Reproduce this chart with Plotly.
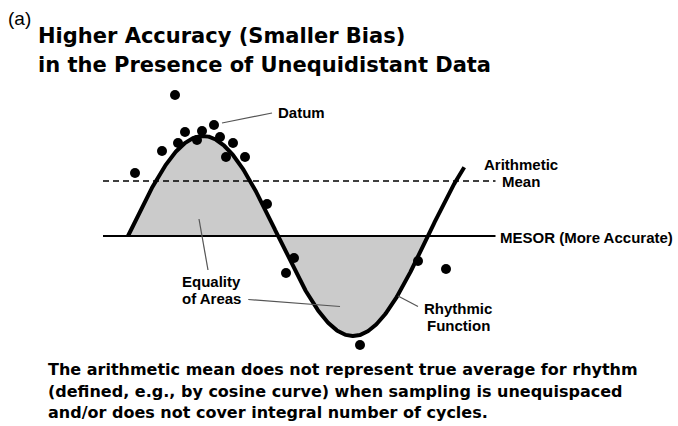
import numpy as np
import plotly.graph_objects as go

W, H = 678, 426

# Rhythm parameters (time in hours, arbitrary value units)
PERIOD = 24.0
MESOR = 50.0
AMPLITUDE = 20.0
ARITH_MEAN = 61.0
T_END = 26.9

# Observed data (time, value)
obs_t = [3.76, 6.88, 4.56, 5.92, 4.00, 5.52, 7.36, 8.40, 2.72, 7.84,
         9.36, 0.56, 11.12, 13.28, 12.64, 23.20, 25.44, 18.56]
obs_v = [78.2, 72.2, 70.8, 71.0, 68.6, 69.2, 69.8, 68.6, 67.0, 65.8,
         65.8, 62.6, 56.4, 45.6, 42.6, 45.0, 43.4, 28.2]

# Horizontal reference lines span
LINE_T0, LINE_T1 = -2.0, 29.4

X_RANGE = [-10.24, 44.0]
Y_RANGE = [12.0, 97.2]


def rhythm(t):
    return MESOR + AMPLITUDE * np.sin(2 * np.pi * t / PERIOD)


def px(x, y):
    return x / W, 1 - y / H


fig = go.Figure()

# shaded areas between the rhythmic function and the MESOR (one full cycle)
t_fill = np.linspace(0, PERIOD, 400)
fig.add_trace(go.Scatter(x=t_fill, y=np.full_like(t_fill, MESOR), mode="lines",
                         line=dict(width=0), hoverinfo="skip", showlegend=False))
fig.add_trace(go.Scatter(x=t_fill, y=rhythm(t_fill), mode="lines", fill="tonexty",
                         fillcolor="#cbcbcb", line=dict(width=0),
                         hoverinfo="skip", showlegend=False))

# arithmetic mean (dashed) and MESOR (solid)
fig.add_trace(go.Scatter(x=[LINE_T0, LINE_T1], y=[ARITH_MEAN, ARITH_MEAN], mode="lines",
                         line=dict(color="black", width=1.6, dash="6px,4px"),
                         showlegend=False))
fig.add_trace(go.Scatter(x=[LINE_T0, LINE_T1], y=[MESOR, MESOR], mode="lines",
                         line=dict(color="black", width=2), showlegend=False))

# rhythmic function
t_curve = np.linspace(0, T_END, 600)
fig.add_trace(go.Scatter(x=t_curve, y=rhythm(t_curve), mode="lines",
                         line=dict(color="black", width=4), showlegend=False))

# data points
fig.add_trace(go.Scatter(x=obs_t, y=obs_v, mode="markers",
                         marker=dict(color="black", size=10), showlegend=False))

# leader lines (data coordinates)
leaders = [
    ((7.52, 72.6), (11.52, 74.6)),   # Datum
    ((5.68, 53.4), (6.40, 43.2)),    # Equality of Areas, upper area
    ((9.62, 37.3), (16.96, 35.9)),   # Equality of Areas, lower area
    ((21.6, 38.0), (23.2, 35.9)),    # Rhythmic Function
]
for (x0, y0), (x1, y1) in leaders:
    fig.add_shape(type="line", x0=x0, y0=y0, x1=x1, y1=y1, xref="x", yref="y",
                  line=dict(color="#555555", width=1.2))

LABEL_FONT = dict(family="Liberation Sans, Arial, sans-serif", size=15, color="black",
                  weight="bold")
TITLE_FONT = dict(family="DejaVu Sans, sans-serif", size=21, color="black", weight="bold")
NOTE_FONT = dict(family="DejaVu Sans, sans-serif", size=16, color="black", weight="bold")

texts = [
    ("(a)", 7, 19, "left", dict(family="Liberation Sans, Arial, sans-serif", size=19,
                                  color="black")),
    ("Higher Accuracy (Smaller Bias)", 37, 36, "left", TITLE_FONT),
    ("in the Presence of Unequidistant Data", 37, 65, "left", TITLE_FONT),
    ("Datum", 277, 113, "left", LABEL_FONT),
    ("Arithmetic", 521, 164, "center", LABEL_FONT),
    ("Mean", 521, 182, "center", LABEL_FONT),
    ("MESOR (More Accurate)", 499, 237, "left", LABEL_FONT),
    ("Equality", 211, 281, "center", LABEL_FONT),
    ("of Areas", 211, 298, "center", LABEL_FONT),
    ("Rhythmic", 458, 308, "center", LABEL_FONT),
    ("Function", 458, 325, "center", LABEL_FONT),
    ("The arithmetic mean does not represent true average for rhythm", 47, 369, "left", NOTE_FONT),
    ("(defined, e.g., by cosine curve) when sampling is unequispaced", 47, 391, "left", NOTE_FONT),
    ("and/or does not cover integral number of cycles.", 47, 412, "left", NOTE_FONT),
]
for txt, x, y, anchor, font in texts:
    xp, yp = px(x, y)
    fig.add_annotation(text=txt, x=xp, y=yp, xref="paper", yref="paper",
                       xanchor=anchor, yanchor="middle", showarrow=False,
                       font=font, borderpad=0)

fig.update_layout(
    width=W, height=H,
    margin=dict(l=0, r=0, t=0, b=0),
    paper_bgcolor="white", plot_bgcolor="white",
    xaxis=dict(range=X_RANGE, visible=False, fixedrange=True),
    yaxis=dict(range=Y_RANGE, visible=False, fixedrange=True),
    showlegend=False,
)

fig.write_html("out.html", config=dict(displayModeBar=False))
